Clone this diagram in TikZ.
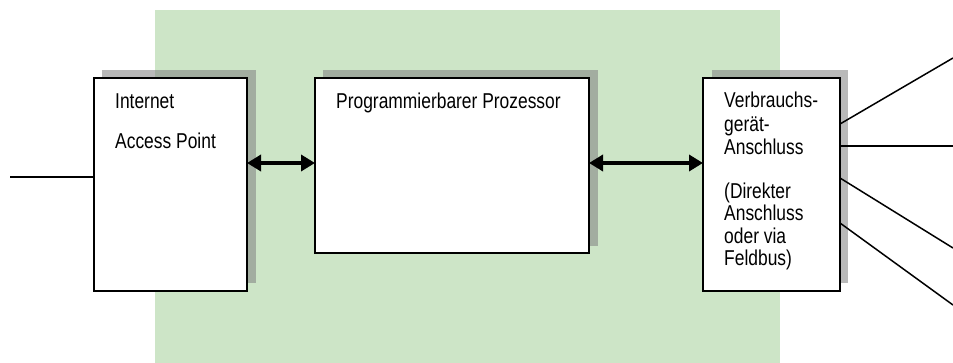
\documentclass[tikz,border=0pt]{standalone}
\usepackage{fontspec}
\setmainfont[FakeStretch=0.81]{Liberation Sans}
\usetikzlibrary{arrows.meta}
\definecolor{bggreen}{RGB}{205,229,199}
\tikzset{
  blockbox/.style={draw=black, line width=1.6pt, fill=white},
  shadowbox/.style={fill=gray, fill opacity=0.55, draw=none},
  lbl/.style={anchor=base west, inner sep=0pt, font=\fontsize{21.5}{23}\selectfont},
  dbl/.style={line width=4pt, {Triangle[length=14pt,width=16pt]}-{Triangle[length=14pt,width=16pt]}},
  wire/.style={line width=1.5pt}
}
\begin{document}
\begin{tikzpicture}[x=1pt,y=-1pt]
\useasboundingbox (0,0) rectangle (953,363);
\fill[bggreen] (155,10) rectangle (780,363);
% shadows
\fill[shadowbox] (102,70) rectangle (256,283);
\fill[shadowbox] (323,70) rectangle (598,246);
\fill[shadowbox] (712,70) rectangle (848,283);
% boxes
\draw[blockbox] (94,78) rectangle (247,291);
\draw[blockbox] (315,78) rectangle (589,253);
\draw[blockbox] (703,78) rectangle (840,291);
\coordinate (b1w) at (94,177);
\coordinate (b1e) at (247,163);
\coordinate (b2w) at (315,163);
\coordinate (b2e) at (589,163);
\coordinate (b3w) at (703,163);
\coordinate (r1) at (840,124);
\coordinate (r2) at (840,146);
\coordinate (r3) at (840,178);
\coordinate (r4) at (840,223);
\coordinate (inl) at (10,177);
\coordinate (o1) at (953,58);
\coordinate (o2) at (953,146);
\coordinate (o3) at (953,248);
\coordinate (o4) at (953,305);
% texts
\node[lbl] (t1a) at (115,109) {Internet};
\node[lbl] (t1b) at (115,149) {Access Point};
\node[lbl] (t2) at (336,109) {Programmierbarer Prozessor};
\node[lbl] (t3a) at (724,108) {Verbrauchs-};
\node[lbl] (t3b) at (724,132) {gerät-};
\node[lbl] (t3c) at (724,155) {Anschluss};
\node[lbl] (t3d) at (724,199) {(Direkter};
\node[lbl] (t3e) at (724,221) {Anschluss};
\node[lbl] (t3f) at (724,244) {oder via};
\node[lbl] (t3g) at (724,266) {Feldbus)};
% connectors
\draw[dbl] (b1e) -- (b2w);
\draw[dbl] (b2e) -- (b3w);
\draw[wire] (inl) -- (b1w);
\draw[wire] (r1) -- (o1);
\draw[wire] (r2) -- (o2);
\draw[wire] (r3) -- (o3);
\draw[wire] (r4) -- (o4);
\end{tikzpicture}
\end{document}
